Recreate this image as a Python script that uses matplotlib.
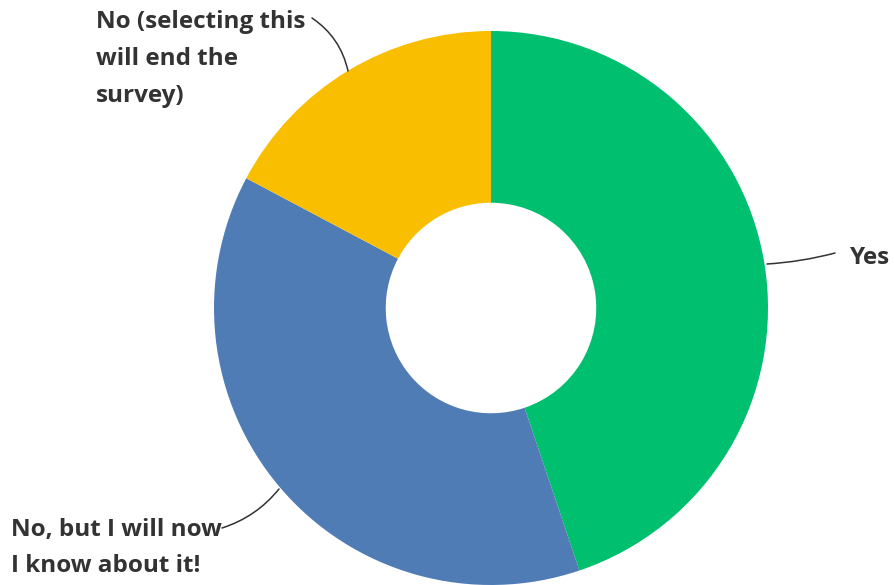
import matplotlib
matplotlib.use("Agg")
from matplotlib import pyplot as plt

#Data
labels = ["Yes", "No, but I will now\nI know about it!", "No (selecting this\nwill end the\nsurvey)"]
values = [44.83, 37.93, 17.24]
colors = ["#00BF6F", "#507CB6", "#F9BE00"]

#Figure in pixel coordinates
fig = plt.figure(figsize=(8.95, 5.85), dpi=100)
ax = fig.add_axes([0, 0, 1, 1])

wedges, _ = ax.pie(values, colors=colors, startangle=90, counterclock=False,
                   radius=277, center=(491, 277),
                   wedgeprops=dict(width=277 * 0.62, linewidth=0))
# pie resets the limits, so set them afterwards
ax.set_xlim(0, 895)
ax.set_ylim(0, 585)
ax.set_aspect("equal")
ax.axis("off")

#Labels with leader lines
font = dict(family=["Open Sans", "DejaVu Sans"], fontweight="bold", fontsize=17.5,
            color="#333333", linespacing=1.72)
line = dict(arrowstyle="-", color="#333333", lw=1.1, shrinkA=0, shrinkB=0)

ax.text(850, 585 - 258, labels[0], ha="left", va="center", **font)
ax.annotate("", xy=(767, 585 - 264), xytext=(835, 585 - 253),
            arrowprops=dict(**line, connectionstyle="arc3,rad=-0.05"))

ax.text(11, 585 - 548, labels[1], ha="left", va="center", **font)
ax.annotate("", xy=(279, 585 - 489), xytext=(222, 585 - 528),
            arrowprops=dict(**line, connectionstyle="arc3,rad=0.15"))

ax.text(96, 585 - 59, labels[2], ha="left", va="center", **font)
ax.annotate("", xy=(348, 585 - 71), xytext=(312, 585 - 18),
            arrowprops=dict(**line, connectionstyle="arc3,rad=-0.2"))

fig.savefig("out.png", dpi=100)
